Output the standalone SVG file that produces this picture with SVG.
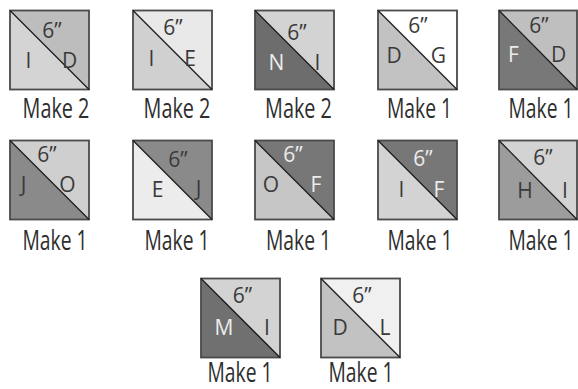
<svg xmlns="http://www.w3.org/2000/svg" width="578" height="389" viewBox="0 0 578 389">
<style>
.bd{fill:none;stroke:#4a4a4a;stroke-width:1.8}
.dg{stroke:#1a1a1a;stroke-width:1.3;fill:none}
.t{font-family:"Open Sans","Liberation Sans",sans-serif;font-size:21px;fill:#3a3a3a;text-anchor:middle}
.w{fill:#ececec}
.lb{font-family:"Open Sans","Liberation Sans",sans-serif;font-size:27px;fill:#2e2e2e;text-anchor:middle}
</style>
<rect width="578" height="389" fill="#ffffff"/>

<g id="sq-ID">
<polygon points="10,10.5 89,89.5 10,89.5" fill="#d4d4d4"/><polygon points="10,10.5 89,10.5 89,89.5" fill="#bdbdbd"/>
<rect class="bd" x="10" y="10.5" width="79" height="79"/><line class="dg" x1="10" y1="10.5" x2="89" y2="89.5"/>
<text class="t" x="52" y="38">6”</text><text class="t" x="28.5" y="68">I</text><text class="t" x="69.5" y="68">D</text>
<text class="lb" transform="translate(56,118) scale(0.735,1)">Make 2</text>
</g>
<g id="sq-IE">
<polygon points="133,10.5 212,89.5 133,89.5" fill="#d0d0d0"/><polygon points="133,10.5 212,10.5 212,89.5" fill="#e9e9e9"/>
<rect class="bd" x="133" y="10.5" width="79" height="79"/><line class="dg" x1="133" y1="10.5" x2="212" y2="89.5"/>
<text class="t" x="173" y="35">6”</text><text class="t" x="151.5" y="66">I</text><text class="t" x="190" y="66">E</text>
<text class="lb" transform="translate(177,118) scale(0.735,1)">Make 2</text>
</g>
<g id="sq-NI">
<polygon points="255,10.5 334,89.5 255,89.5" fill="#6d6d6d"/><polygon points="255,10.5 334,10.5 334,89.5" fill="#d3d3d3"/>
<rect class="bd" x="255" y="10.5" width="79" height="79"/><line class="dg" x1="255" y1="10.5" x2="334" y2="89.5"/>
<text class="t" x="297" y="40">6”</text><text class="t w" x="276.5" y="70">N</text><text class="t" x="317.5" y="70">I</text>
<text class="lb" transform="translate(298.5,118) scale(0.735,1)">Make 2</text>
</g>
<g id="sq-DG">
<polygon points="378,10.5 457,89.5 378,89.5" fill="#c2c2c2"/><polygon points="378,10.5 457,10.5 457,89.5" fill="#ffffff"/>
<rect class="bd" x="378" y="10.5" width="79" height="79"/><line class="dg" x1="378" y1="10.5" x2="457" y2="89.5"/>
<text class="t" x="418" y="33">6”</text><text class="t" x="394" y="63">D</text><text class="t" x="438.5" y="63">G</text>
<text class="lb" transform="translate(419.5,118) scale(0.715,1)">Make 1</text>
</g>
<g id="sq-FD">
<polygon points="499,10.5 577,89.5 499,89.5" fill="#787878"/><polygon points="499,10.5 577,10.5 577,89.5" fill="#bfbfbf"/>
<rect class="bd" x="499" y="10.5" width="78" height="79"/><line class="dg" x1="499" y1="10.5" x2="577" y2="89.5"/>
<text class="t" x="539" y="33">6”</text><text class="t w" x="513.5" y="62">F</text><text class="t" x="558.5" y="62">D</text>
<text class="lb" transform="translate(541,118) scale(0.715,1)">Make 1</text>
</g>

<g id="sq-JO">
<polygon points="10,140.5 89,219.5 10,219.5" fill="#8a8a8a"/><polygon points="10,140.5 89,140.5 89,219.5" fill="#cfcfcf"/>
<rect class="bd" x="10" y="140.5" width="79" height="79"/><line class="dg" x1="10" y1="140.5" x2="89" y2="219.5"/>
<text class="t" x="47" y="162">6”</text><text class="t" x="23.5" y="192">J</text><text class="t" x="67.5" y="192">O</text>
<text class="lb" transform="translate(55,250) scale(0.715,1)">Make 1</text>
</g>
<g id="sq-EJ">
<polygon points="133,140.5 212,219.5 133,219.5" fill="#ececec"/><polygon points="133,140.5 212,140.5 212,219.5" fill="#8a8a8a"/>
<rect class="bd" x="133" y="140.5" width="79" height="79"/><line class="dg" x1="133" y1="140.5" x2="212" y2="219.5"/>
<text class="t" x="178" y="167">6”</text><text class="t" x="157.5" y="197">E</text><text class="t" x="198.5" y="196">J</text>
<text class="lb" transform="translate(177,250) scale(0.715,1)">Make 1</text>
</g>
<g id="sq-OF">
<polygon points="255,140.5 334,219.5 255,219.5" fill="#c6c6c6"/><polygon points="255,140.5 334,140.5 334,219.5" fill="#777777"/>
<rect class="bd" x="255" y="140.5" width="79" height="79"/><line class="dg" x1="255" y1="140.5" x2="334" y2="219.5"/>
<text class="t w" x="293" y="162">6”</text><text class="t" x="271" y="192">O</text><text class="t w" x="316" y="192">F</text>
<text class="lb" transform="translate(298.5,250) scale(0.715,1)">Make 1</text>
</g>
<g id="sq-IF">
<polygon points="378,140.5 457,219.5 378,219.5" fill="#d3d3d3"/><polygon points="378,140.5 457,140.5 457,219.5" fill="#777777"/>
<rect class="bd" x="378" y="140.5" width="79" height="79"/><line class="dg" x1="378" y1="140.5" x2="457" y2="219.5"/>
<text class="t w" x="423" y="166">6”</text><text class="t" x="401.5" y="197">I</text><text class="t w" x="439" y="197">F</text>
<text class="lb" transform="translate(420,250) scale(0.715,1)">Make 1</text>
</g>
<g id="sq-HI">
<polygon points="499,140.5 577,219.5 499,219.5" fill="#9c9c9c"/><polygon points="499,140.5 577,140.5 577,219.5" fill="#d3d3d3"/>
<rect class="bd" x="499" y="140.5" width="78" height="79"/><line class="dg" x1="499" y1="140.5" x2="577" y2="219.5"/>
<text class="t" x="543" y="165">6”</text><text class="t" x="525" y="198">H</text><text class="t" x="565" y="198">I</text>
<text class="lb" transform="translate(541,250) scale(0.715,1)">Make 1</text>
</g>

<g id="sq-MI">
<polygon points="201,278.5 280,357.5 201,357.5" fill="#707070"/><polygon points="201,278.5 280,278.5 280,357.5" fill="#d3d3d3"/>
<rect class="bd" x="201" y="278.5" width="79" height="79"/><line class="dg" x1="201" y1="278.5" x2="280" y2="357.5"/>
<text class="t" x="242.5" y="303">6”</text><text class="t w" x="224" y="335">M</text><text class="t" x="267" y="335">I</text>
<text class="lb" transform="translate(240,382) scale(0.715,1)">Make 1</text>
</g>
<g id="sq-DL">
<polygon points="321,278.5 400,357.5 321,357.5" fill="#c2c2c2"/><polygon points="321,278.5 400,278.5 400,357.5" fill="#f0f0f0"/>
<rect class="bd" x="321" y="278.5" width="79" height="79"/><line class="dg" x1="321" y1="278.5" x2="400" y2="357.5"/>
<text class="t" x="362" y="303">6”</text><text class="t" x="340" y="335">D</text><text class="t" x="385" y="335">L</text>
<text class="lb" transform="translate(361,382) scale(0.715,1)">Make 1</text>
</g>
</svg>
